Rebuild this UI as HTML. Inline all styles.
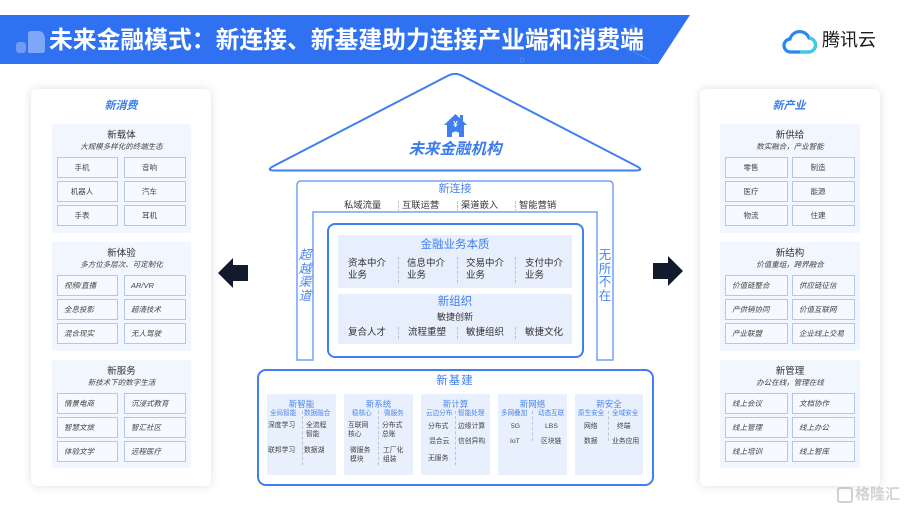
<!DOCTYPE html>
<html><head><meta charset="utf-8">
<style>
*{margin:0;padding:0;box-sizing:border-box}
body{width:908px;height:512px;overflow:hidden;background:#fff;font-family:"Liberation Sans","Noto Sans CJK SC",sans-serif;position:relative}
.a{position:absolute;white-space:nowrap;line-height:1}
.cw{text-align:center}
.card{position:absolute;background:#fff;border-radius:6px;box-shadow:0 0 10px rgba(0,0,0,0.13);top:89px;width:180px;height:397px}
.sec{position:absolute;background:#f2f6fe}
.cell{position:absolute;height:21px;border:1.5px solid #adc8f7;background:#f6f9ff;display:flex;align-items:center;font-size:7.5px;color:#444;white-space:nowrap;line-height:1}
.cell.p{padding-left:6px;font-style:italic}
.cell.q{justify-content:center;padding-right:11px}
.pt{font-size:11px;font-weight:bold;font-style:italic;color:#3a7cf0}
.st{font-size:9.5px;color:#333}
.ss{font-size:7.5px;color:#444;font-style:italic}
.bl{color:#4382f0}
.sep{position:absolute;border-left:1px dashed #bcc3d0;width:0}
.it{font-size:9.3px;color:#333}
.sm{font-size:6.6px;color:#4a86ee}
.xs{font-size:6.8px;color:#444}
.bt{font-size:8.5px;color:#4a86ee}
</style></head><body>

<svg width="908" height="512" style="position:absolute;left:0;top:0">
  <polygon points="0,15 690,15 658,64 0,64" fill="#2f71f0"/>
  <line x1="580" y1="25" x2="650" y2="60" stroke="#5b90f4" stroke-width="0.6"/>
  <circle cx="633" cy="27" r="2" fill="none" stroke="#6a9cf5" stroke-width="0.6"/>
  <circle cx="522" cy="60" r="2" fill="none" stroke="#6a9cf5" stroke-width="0.6"/>
  <rect x="16" y="42" width="10" height="11" rx="3" fill="#7ea8f7" opacity="0.8"/>
  <path d="M28,53 L28,34 Q28,31 31,31 L38,31 Q45,31 45,40 L45,50 Q45,53 42,53 Z" fill="#8bb2f8" opacity="0.85"/>

  <path d="M11,25 H28 A7,7 0 0 0 29,11 A10,10 0 0 0 10,12 A6.5,6.5 0 0 0 11,25 Z" transform="translate(780,27)" fill="none" stroke="#2c86ef" stroke-width="3.2"/>
  <path d="M20,25 H28 A7,7 0 0 0 29,11" transform="translate(780,27)" fill="none" stroke="#3fcbe0" stroke-width="3.2"/>

  <path d="M275,170.5 L635,170.5 Q645,170.5 636.1,165.9 L462.1,75.7 Q455,72 447.9,75.7 L273.9,165.9 Q265,170.5 275,170.5 Z" fill="#fff" stroke="#3f7ff0" stroke-width="2"/>
  <path d="M444,125 L455.5,114 L467,125 L464,125 L464,137 L447,137 L447,125 Z" fill="#3f7ff0"/>
  <rect x="460" y="115" width="3" height="6" fill="#3f7ff0"/>
  <path d="M452,137 L452,133 Q455.5,130 459,133 L459,137 Z" fill="#fff"/>

  <path d="M297,360 L297,185 Q297,181 301,181 L609,181 Q613,181 613,185 L613,360 L597,360 L597,212 L313,212 L313,360 Z" fill="#fff" stroke="#72a1f4" stroke-width="1.5"/>
  <rect x="328" y="224" width="255" height="133" rx="7" fill="#fff" stroke="#3f7ff0" stroke-width="2"/>
  <rect x="338" y="235" width="234" height="53" fill="#e7effd"/>
  <rect x="338" y="294" width="234" height="50" fill="#e7effd"/>

  <rect x="258" y="370" width="395" height="115" rx="8" fill="#fff" stroke="#3f7ff0" stroke-width="2"/>
  <rect x="267" y="394" width="69" height="81" fill="#e8f0fd"/>
  <rect x="344" y="394" width="69" height="81" fill="#e8f0fd"/>
  <rect x="421" y="394" width="69" height="81" fill="#e8f0fd"/>
  <rect x="498" y="394" width="69" height="81" fill="#e8f0fd"/>
  <rect x="575" y="394" width="68" height="81" fill="#e8f0fd"/>

  <polygon points="218,273 233,258 233,265 248,265 248,281 233,281 233,288" fill="#141a2e"/>
  <polygon points="683,271 668,256 668,263 653,263 653,279 668,279 668,286" fill="#141a2e"/>

  <rect x="838" y="488" width="14" height="14" rx="2" fill="none" stroke="#d2d2d2" stroke-width="2"/>
</svg>

<div class="a" style="left:49px;top:29px;font-size:23.8px;font-weight:bold;color:#fff">未来金融模式：新连接、新基建助力连接产业端和消费端</div>
<div class="a" style="left:822px;top:31px;font-size:18px;color:#1a1a1a">腾讯云</div>
<div class="a" style="left:855px;top:487px;font-size:15px;color:#d4d4d4;font-weight:bold">格隆汇</div>

<!-- LEFT PANEL -->
<div class="card" style="left:31px"></div>
<div class="a cw pt" style="left:71px;width:100px;top:101px">新消费</div>

<div class="sec" style="left:52px;top:124px;width:139px;height:109px"></div>
<div class="a cw st" style="left:52px;width:139px;top:130.7px">新载体</div>
<div class="a cw ss" style="left:52px;width:139px;top:143.3px">大规模多样化的终端生态</div>
<div class="cell q" style="left:57px;top:157px;width:61px">手机</div>
<div class="cell q" style="left:124px;top:157px;width:62px">音响</div>
<div class="cell q" style="left:57px;top:181px;width:61px">机器人</div>
<div class="cell q" style="left:124px;top:181px;width:62px">汽车</div>
<div class="cell q" style="left:57px;top:205px;width:61px">手表</div>
<div class="cell q" style="left:124px;top:205px;width:62px">耳机</div>

<div class="sec" style="left:52px;top:242px;width:139px;height:109px"></div>
<div class="a cw st" style="left:52px;width:139px;top:248.7px">新体验</div>
<div class="a cw ss" style="left:52px;width:139px;top:261.3px">多方位多层次、可定制化</div>
<div class="cell p" style="left:57px;top:275px;width:61px">视频/直播</div>
<div class="cell p" style="left:124px;top:275px;width:62px">AR/VR</div>
<div class="cell p" style="left:57px;top:299px;width:61px">全息投影</div>
<div class="cell p" style="left:124px;top:299px;width:62px">超清技术</div>
<div class="cell p" style="left:57px;top:323px;width:61px">混合现实</div>
<div class="cell p" style="left:124px;top:323px;width:62px">无人驾驶</div>

<div class="sec" style="left:52px;top:360px;width:139px;height:108px"></div>
<div class="a cw st" style="left:52px;width:139px;top:366.7px">新服务</div>
<div class="a cw ss" style="left:52px;width:139px;top:379.3px">新技术下的数字生活</div>
<div class="cell p" style="left:57px;top:393px;width:61px">情景电商</div>
<div class="cell p" style="left:124px;top:393px;width:62px">沉浸式教育</div>
<div class="cell p" style="left:57px;top:417px;width:61px">智慧文旅</div>
<div class="cell p" style="left:124px;top:417px;width:62px">智汇社区</div>
<div class="cell p" style="left:57px;top:441px;width:61px">体验文学</div>
<div class="cell p" style="left:124px;top:441px;width:62px">远程医疗</div>

<!-- RIGHT PANEL -->
<div class="card" style="left:700px"></div>
<div class="a cw pt" style="left:739px;width:100px;top:101px">新产业</div>

<div class="sec" style="left:720px;top:124px;width:140px;height:109px"></div>
<div class="a cw st" style="left:720px;width:140px;top:130.7px">新供给</div>
<div class="a cw ss" style="left:720px;width:140px;top:143.3px">数实融合，产业智能</div>
<div class="cell q" style="left:725px;top:157px;width:63px">零售</div>
<div class="cell q" style="left:792px;top:157px;width:63px">制造</div>
<div class="cell q" style="left:725px;top:181px;width:63px">医疗</div>
<div class="cell q" style="left:792px;top:181px;width:63px">能源</div>
<div class="cell q" style="left:725px;top:205px;width:63px">物流</div>
<div class="cell q" style="left:792px;top:205px;width:63px">住建</div>

<div class="sec" style="left:720px;top:242px;width:140px;height:109px"></div>
<div class="a cw st" style="left:720px;width:140px;top:248.7px">新结构</div>
<div class="a cw ss" style="left:720px;width:140px;top:261.3px">价值重组，跨界融合</div>
<div class="cell p" style="left:725px;top:275px;width:63px">价值链整合</div>
<div class="cell p" style="left:792px;top:275px;width:63px">供应链征信</div>
<div class="cell p" style="left:725px;top:299px;width:63px">产供销协同</div>
<div class="cell p" style="left:792px;top:299px;width:63px">价值互联网</div>
<div class="cell p" style="left:725px;top:323px;width:63px">产业联盟</div>
<div class="cell p" style="left:792px;top:323px;width:63px">企业线上交易</div>

<div class="sec" style="left:720px;top:360px;width:140px;height:108px"></div>
<div class="a cw st" style="left:720px;width:140px;top:366.7px">新管理</div>
<div class="a cw ss" style="left:720px;width:140px;top:379.3px">办公在线，管理在线</div>
<div class="cell p" style="left:725px;top:393px;width:63px">线上会议</div>
<div class="cell p" style="left:792px;top:393px;width:63px">文档协作</div>
<div class="cell p" style="left:725px;top:417px;width:63px">线上管理</div>
<div class="cell p" style="left:792px;top:417px;width:63px">线上办公</div>
<div class="cell p" style="left:725px;top:441px;width:63px">线上培训</div>
<div class="cell p" style="left:792px;top:441px;width:63px">线上智库</div>

<!-- CENTER -->
<div class="a" style="left:437px;top:121px;width:37px;text-align:center;font-size:8px;font-weight:bold;color:#fff">¥</div>
<div class="a cw" style="left:355px;width:200px;top:142.4px;font-size:15.5px;font-weight:bold;font-style:italic;color:#3a7bef">未来金融机构</div>

<div class="a cw bl" style="left:405px;width:100px;top:183.8px;font-size:11px;color:#4a86ee">新连接</div>
<div class="a it" style="left:344px;top:200.8px">私域流量</div>
<div class="a it" style="left:402px;top:200.8px">互联运营</div>
<div class="a it" style="left:461px;top:200.8px">渠道嵌入</div>
<div class="a it" style="left:519px;top:200.8px">智能营销</div>
<div class="sep" style="left:398px;top:201px;height:11px"></div>
<div class="sep" style="left:457px;top:201px;height:11px"></div>
<div class="sep" style="left:515px;top:201px;height:11px"></div>

<div class="a" style="left:297px;width:16px;top:249px;font-size:12.5px;line-height:13.5px;text-align:center;white-space:normal;color:#4a86ee;font-style:italic">超越渠道</div>
<div class="a" style="left:597px;width:16px;top:249px;font-size:12.5px;line-height:13.5px;text-align:center;white-space:normal;color:#4a86ee">无所不在</div>

<div class="a cw" style="left:385px;width:140px;top:239.6px;font-size:11.5px;color:#3f7ff0">金融业务本质</div>
<div class="a it" style="left:348px;top:258.7px;font-size:9.5px">资本中介</div>
<div class="a it" style="left:348px;top:270.7px;font-size:9.5px">业务</div>
<div class="a it" style="left:407px;top:258.7px;font-size:9.5px">信息中介</div>
<div class="a it" style="left:407px;top:270.7px;font-size:9.5px">业务</div>
<div class="a it" style="left:466px;top:258.7px;font-size:9.5px">交易中介</div>
<div class="a it" style="left:466px;top:270.7px;font-size:9.5px">业务</div>
<div class="a it" style="left:525px;top:258.7px;font-size:9.5px">支付中介</div>
<div class="a it" style="left:525px;top:270.7px;font-size:9.5px">业务</div>
<div class="sep" style="left:398px;top:257px;height:26px"></div>
<div class="sep" style="left:457px;top:257px;height:26px"></div>
<div class="sep" style="left:515px;top:257px;height:26px"></div>

<div class="a cw" style="left:405px;width:100px;top:296.6px;font-size:11.5px;color:#3f7ff0">新组织</div>
<div class="a cw it" style="left:405px;width:100px;top:313px;font-size:9px">敏捷创新</div>
<div class="a it" style="left:348px;top:327.7px;font-size:9.5px">复合人才</div>
<div class="a it" style="left:408px;top:327.7px;font-size:9.5px">流程重塑</div>
<div class="a it" style="left:466px;top:327.7px;font-size:9.5px">敏捷组织</div>
<div class="a it" style="left:525px;top:327.7px;font-size:9.5px">敏捷文化</div>
<div class="sep" style="left:398px;top:327px;height:12px"></div>
<div class="sep" style="left:457px;top:327px;height:12px"></div>
<div class="sep" style="left:515px;top:327px;height:12px"></div>

<!-- BOTTOM -->
<div class="a cw" style="left:405px;width:100px;top:375.6px;font-size:11.5px;color:#3f7ff0;letter-spacing:1px">新基建</div>

<div class="a cw bt" style="left:267px;width:69px;top:400.2px">新智能</div>
<div class="a cw bt" style="left:344px;width:69px;top:400.2px">新系统</div>
<div class="a cw bt" style="left:421px;width:69px;top:400.2px">新计算</div>
<div class="a cw bt" style="left:498px;width:69px;top:400.2px">新网络</div>
<div class="a cw bt" style="left:575px;width:68px;top:400.2px">新安全</div>

<div class="a sm" style="left:270px;top:411.3px">全局智能</div>
<div class="a sm" style="left:304px;top:411.3px">数据融合</div>
<div class="a sm" style="left:352px;top:411.3px">稳核心</div>
<div class="a sm" style="left:384px;top:411.3px">微服务</div>
<div class="a sm" style="left:426px;top:411.3px">云边分布</div>
<div class="a sm" style="left:458px;top:411.3px">智能处理</div>
<div class="a sm" style="left:501px;top:411.3px">多网叠加</div>
<div class="a sm" style="left:538px;top:411.3px">动态互联</div>
<div class="a sm" style="left:578px;top:411.3px">原生安全</div>
<div class="a sm" style="left:612px;top:411.3px">全域安全</div>

<div class="sep" style="left:302px;top:411px;height:54px"></div>
<div class="sep" style="left:378px;top:411px;height:54px"></div>
<div class="sep" style="left:455px;top:411px;height:54px"></div>
<div class="sep" style="left:532px;top:411px;height:30px"></div>
<div class="sep" style="left:608px;top:411px;height:30px"></div>

<div class="a xs" style="left:268px;top:423.2px">深度学习</div>
<div class="a xs" style="left:306px;top:423.2px">全流程</div>
<div class="a xs" style="left:306px;top:432.2px">智能</div>
<div class="a xs" style="left:268px;top:448.2px">联邦学习</div>
<div class="a xs" style="left:304px;top:448.2px">数据湖</div>

<div class="a xs" style="left:348px;top:423.2px">互联网</div>
<div class="a xs" style="left:348px;top:432.2px">核心</div>
<div class="a xs" style="left:382px;top:423.2px">分布式</div>
<div class="a xs" style="left:382px;top:432.2px">总账</div>
<div class="a xs" style="left:350px;top:448.2px">微服务</div>
<div class="a xs" style="left:350px;top:457px">模块</div>
<div class="a xs" style="left:383px;top:448.2px">工厂化</div>
<div class="a xs" style="left:383px;top:457px">组装</div>

<div class="a xs" style="left:428px;top:424.2px">分布式</div>
<div class="a xs" style="left:458px;top:424.2px">边缘计算</div>
<div class="a xs" style="left:429px;top:439.2px">混合云</div>
<div class="a xs" style="left:458px;top:439.2px">信创异构</div>
<div class="a xs" style="left:428px;top:456.2px">无服务</div>

<div class="a xs" style="left:511px;top:424.2px">5G</div>
<div class="a xs" style="left:545px;top:424.2px">LBS</div>
<div class="a xs" style="left:510px;top:439.2px">IoT</div>
<div class="a xs" style="left:541px;top:439.2px">区块链</div>

<div class="a xs" style="left:584px;top:424.2px">网络</div>
<div class="a xs" style="left:617px;top:424.2px">终端</div>
<div class="a xs" style="left:584px;top:439.2px">数据</div>
<div class="a xs" style="left:612px;top:439.2px">业务应用</div>

</body></html>
